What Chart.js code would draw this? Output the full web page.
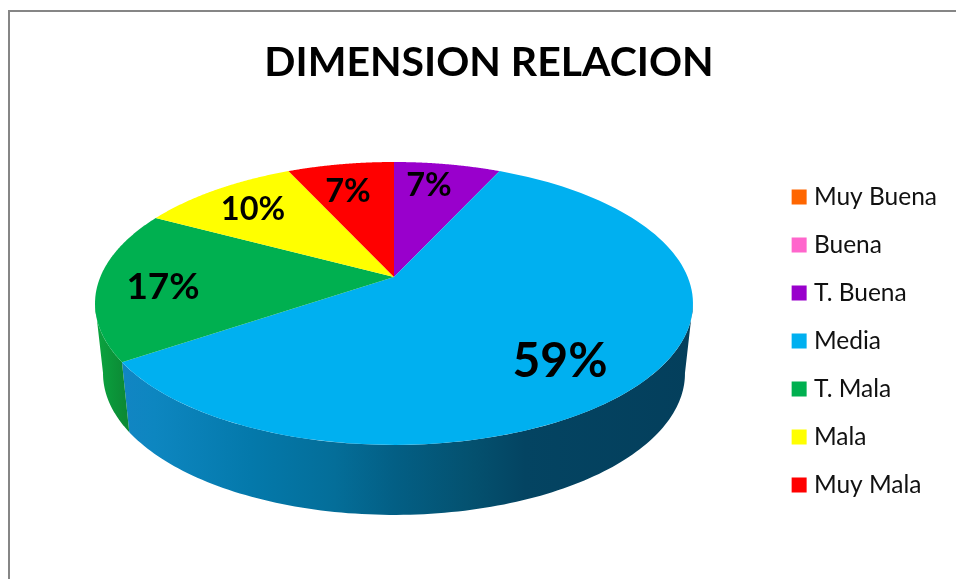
<!DOCTYPE html>
<html>
<head>
<meta charset="utf-8">
<title>DIMENSION RELACION</title>
<script src="https://cdn.jsdelivr.net/npm/chart.js@4"></script>
<style>
    html, body { margin: 0; background: #fff; overflow: hidden; width: 956px; height: 579px; }
    #frame { position: absolute; left: 8px; top: 10px; width: 1200px; height: 900px; border: 2px solid #868686; }
    #pie { position: absolute; left: 0; top: 0; }
</style>
</head>
<body>
<div id="frame"></div>
<canvas id="pie" width="956" height="579"></canvas>
<script>
const categories = ['Muy Buena', 'Buena', 'T. Buena', 'Media', 'T. Mala', 'Mala', 'Muy Mala']
const percentValues = [0, 0, 6.9, 58.6, 17.2, 10.3, 6.9]
const sliceColors = ['#FF6600', '#FF66CC', '#9900CC', '#00B0F0', '#00B050', '#FFFF00', '#FF0000']

// where the percentages sit on the pie, by category index
const labelSpots = { 2: [429, 186, 32.5], 3: [560, 362, 48], 4: [163, 287, 37], 5: [253, 210, 32.5], 6: [348, 192, 32.5] }

const FONT = 'Lato, "Open Sans", sans-serif'

// tilted disc: apex of the slices is above the middle of the ellipse
const apexX = 394
const apexY = 277
const tilt = -0.187
const tiltY = 84.7
const flatR = 293.7
const wallDrop = 70
const wallShrink = 291 / 299

const project = (angle, r) => {
    const u = r * Math.cos(angle)
    const v = r * Math.sin(angle)
    const d = 1 + tilt * v
    return [apexX + flatR * u / d, (tiltY * v + apexY) / d]
}
const projectLow = (angle) => {
    const p = project(angle, 1)
    return [apexX + (p[0] - apexX) * wallShrink, p[1] + wallDrop]
}

const wallStops = {
    3: [[0, '#1585c6'], [0.1, '#0d86c0'], [0.26, '#0479ab'], [0.4, '#046e99'], [0.5, '#035f85'], [0.63, '#04516f'], [0.72, '#044462'], [1, '#043f5c']],
    4: [[0, '#0aa640'], [0.05, '#0c8a35'], [1, '#0c7a30']]
}
const wallFrom = Math.asin(0.184)
const wallTo = Math.PI - wallFrom

const pie3d = {
    id: 'pie3d',
    beforeDatasetsDraw(chart) {
        const ctx = chart.ctx
        const arcs = chart.getDatasetMeta(0).data
        ctx.save()

        // side wall first
        arcs.forEach((arc, i) => {
            let from = Math.max(arc.startAngle, wallFrom)
            let to = Math.min(arc.endAngle, wallTo)
            if (to <= from) return
            const grad = ctx.createLinearGradient(95, 0, 693, 0)
            const stops = wallStops[i] || [[0, sliceColors[i]], [1, sliceColors[i]]]
            stops.forEach(s => grad.addColorStop(s[0], s[1]))
            ctx.beginPath()
            for (let k = 0; k <= 120; k++) {
                const p = project(from + (to - from) * k / 120, 1)
                k ? ctx.lineTo(p[0], p[1]) : ctx.moveTo(p[0], p[1])
            }
            for (let k = 120; k >= 0; k--) {
                const p = projectLow(from + (to - from) * k / 120)
                ctx.lineTo(p[0], p[1])
            }
            ctx.closePath()
            ctx.fillStyle = grad
            ctx.fill()
        })

        // then the top face
        arcs.forEach((arc, i) => {
            if (arc.endAngle - arc.startAngle <= 0) return
            ctx.beginPath()
            ctx.moveTo(apexX, apexY)
            for (let k = 0; k <= 120; k++) {
                const p = project(arc.startAngle + (arc.endAngle - arc.startAngle) * k / 120, 1)
                ctx.lineTo(p[0], p[1])
            }
            ctx.closePath()
            ctx.fillStyle = sliceColors[i]
            ctx.fill()
        })

        ctx.fillStyle = '#000'
        ctx.textAlign = 'center'
        ctx.textBaseline = 'middle'
        percentValues.forEach((val, i) => {
            if (!val) return
            const spot = labelSpots[i]
            ctx.font = 'bold ' + spot[2] + 'px ' + FONT
            ctx.fillText(Math.round(val) + '%', spot[0], spot[1])
        })
        ctx.restore()
        return false
    }
}

new Chart(document.getElementById('pie'), {
    type: 'pie',
    data: {
        labels: categories,
        datasets: [{ data: percentValues, backgroundColor: sliceColors, borderWidth: 0 }]
    },
    options: {
        responsive: false,
        animation: false,
        layout: { padding: { left: 31, top: 38, right: 9, bottom: 0 } },
        plugins: {
            tooltip: { enabled: false },
            title: {
                display: true,
                text: 'DIMENSION RELACION',
                color: '#000',
                font: { family: FONT, size: 41, weight: 'bold' },
                padding: { top: 0, bottom: 16 }
            },
            legend: {
                position: 'right',
                fullSize: false,
                labels: {
                    color: '#111',
                    font: { family: FONT, size: 24.5 },
                    usePointStyle: true,
                    pointStyle: 'rect',
                    boxWidth: 5,
                    boxHeight: 15,
                    padding: 23.5
                }
            }
        }
    },
    plugins: [pie3d]
})
</script>
</body>
</html>
